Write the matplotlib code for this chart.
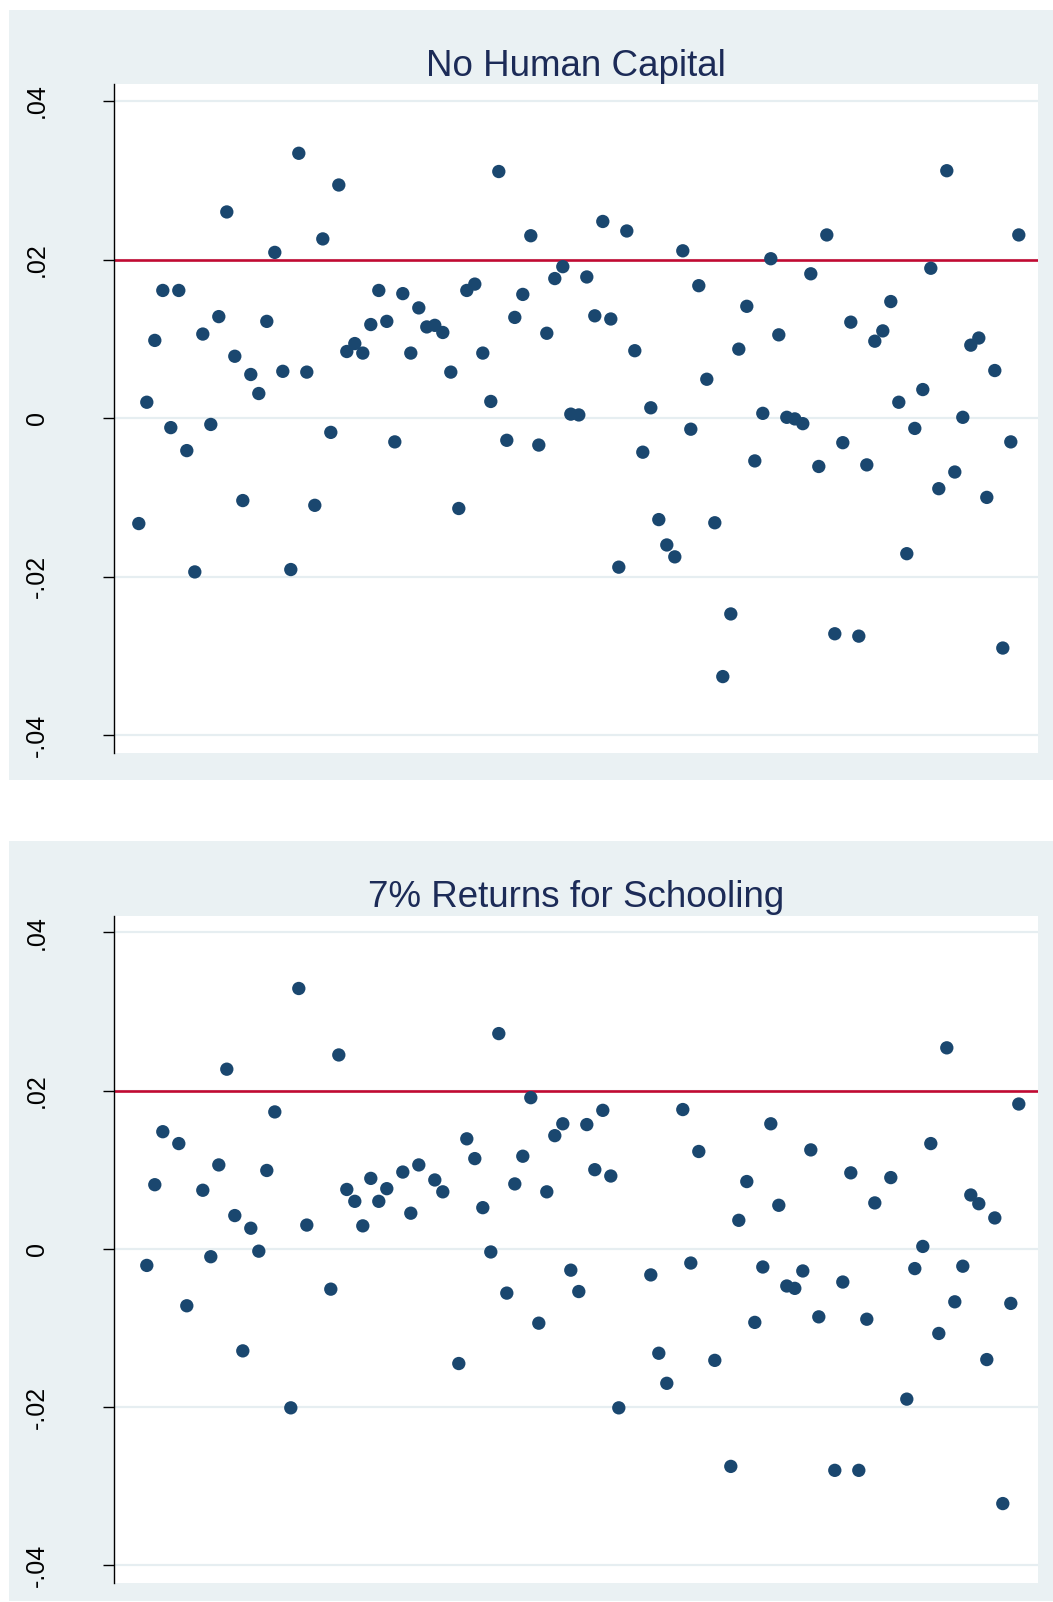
import numpy as np
import matplotlib
matplotlib.use("Agg")
import matplotlib.pyplot as plt
from matplotlib.patches import Rectangle

plt.rcParams['font.family'] = ['Liberation Sans', 'DejaVu Sans']

nan = np.nan
titles = ["No Human Capital", "7% Returns for Schooling"]
reference_line = 0.02
ytick_values = [-0.04, -0.02, 0.0, 0.02, 0.04]
ytick_labels = ["-.04", "-.02", "0", ".02", ".04"]

no_human_capital = [
    -0.0133, 0.0020, 0.0098, 0.0161, -0.0012, 0.0161, -0.0041, -0.0194, 0.0106, -0.0008,
    0.0128, 0.0260, 0.0078, -0.0104, 0.0055, 0.0031, 0.0122, 0.0209, 0.0059, -0.0191,
    0.0334, 0.0058, -0.0110, 0.0226, -0.0018, 0.0294, 0.0084, 0.0094, 0.0082, 0.0118,
    0.0161, 0.0122, -0.0030, 0.0157, 0.0082, 0.0139, 0.0115, 0.0117, 0.0108, 0.0058,
    -0.0114, 0.0161, 0.0169, 0.0082, 0.0021, 0.0311, -0.0028, 0.0127, 0.0156, 0.0230,
    -0.0034, 0.0107, 0.0176, 0.0191, 0.0005, 0.0004, 0.0178, 0.0129, 0.0248, 0.0125,
    -0.0188, 0.0236, 0.0085, -0.0043, 0.0013, -0.0128, -0.0160, -0.0175, 0.0211, -0.0014,
    0.0167, 0.0049, -0.0132, -0.0326, -0.0247, 0.0087, 0.0141, -0.0054, 0.0006, 0.0201,
    0.0105, 0.0001, -0.0001, -0.0007, 0.0182, -0.0061, 0.0231, -0.0272, -0.0031, 0.0121,
    -0.0275, -0.0059, 0.0097, 0.0110, 0.0147, 0.0020, -0.0171, -0.0013, 0.0036, 0.0189,
    -0.0089, 0.0312, -0.0068, 0.0001, 0.0092, 0.0101, -0.0100, 0.0060, -0.0290, -0.0030,
    0.0231,
]

returns_7pct = [
    nan, -0.0021, 0.0081, 0.0148, nan, 0.0133, -0.0072, nan, 0.0074, -0.0010,
    0.0106, 0.0227, 0.0042, -0.0129, 0.0026, -0.0003, 0.0099, 0.0173, nan, -0.0201,
    0.0329, 0.0030, nan, nan, -0.0051, 0.0245, 0.0075, 0.0060, 0.0029, 0.0089,
    0.0060, 0.0076, nan, 0.0097, 0.0045, 0.0106, nan, 0.0087, 0.0072, nan,
    -0.0145, 0.0139, 0.0114, 0.0052, -0.0004, 0.0272, -0.0056, 0.0082, 0.0117, 0.0191,
    -0.0094, 0.0072, 0.0143, 0.0158, -0.0027, -0.0054, 0.0157, 0.0100, 0.0175, 0.0092,
    -0.0201, nan, nan, nan, -0.0033, -0.0132, -0.0170, nan, 0.0176, -0.0018,
    0.0123, nan, -0.0141, nan, -0.0275, 0.0036, 0.0085, -0.0093, -0.0023, 0.0158,
    0.0055, -0.0047, -0.0050, -0.0028, 0.0125, -0.0086, nan, -0.0280, -0.0042, 0.0096,
    -0.0280, -0.0089, 0.0058, nan, 0.0090, nan, -0.0190, -0.0025, 0.0003, 0.0133,
    -0.0107, 0.0254, -0.0067, -0.0022, 0.0068, 0.0057, -0.0140, 0.0039, -0.0322, -0.0069,
    0.0183,
]

series = [no_human_capital, returns_7pct]

W, H = 1053, 1602
fig = plt.figure(figsize=(W / 100, H / 100), dpi=100)
fig.patch.set_facecolor('white')

BG = '#EAF1F3'
GRID = '#E6EEF1'
NAVY = '#1A476F'
RED = '#C10A32'
TITLE_C = '#1C2B57'

# panel layout in pixels: (bg_top, bg_bottom, ax_top, ax_bottom)
panels = [(10, 780, 84.3, 752.7), (840.7, 1601, 915.7, 1582.7)]
title_pads = [5.0, 6.5]
ax_left, ax_right = 114, 1038

for k, (bg_t, bg_b, ax_t, ax_b) in enumerate(panels):
    fig.patches.append(Rectangle((9 / W, 1 - bg_b / H), (W - 9) / W, (bg_b - bg_t) / H,
                                 transform=fig.transFigure, facecolor=BG,
                                 edgecolor='none', zorder=-5))
    ax = fig.add_axes([ax_left / W, 1 - ax_b / H, (ax_right - ax_left) / W, (ax_b - ax_t) / H])
    ax.set_zorder(1)
    ax.set_facecolor('white')
    y = np.array(series[k], dtype=float)
    x = np.arange(len(y))
    ax.scatter(x, y, s=92, color=NAVY, edgecolors='none', zorder=3)
    ax.axhline(reference_line, color=RED, lw=1.9, zorder=2)
    ax.set_xlim(-3.1, 112.4)
    ax.set_ylim(-0.0422, 0.0421)
    ax.set_yticks(ytick_values)
    ax.set_yticklabels(ytick_labels, rotation=90, va='center', fontsize=18)
    ax.set_xticks([])
    ax.grid(axis='y', color=GRID, lw=1.6, zorder=1)
    ax.set_axisbelow(True)
    for side in ['top', 'right', 'bottom']:
        ax.spines[side].set_visible(False)
    ax.spines['left'].set_color('black')
    ax.spines['left'].set_linewidth(1.0)
    ax.tick_params(axis='y', direction='out', length=8, width=1.0, pad=39, colors='black')
    ax.set_title(titles[k], fontsize=26.5, color=TITLE_C, pad=title_pads[k])

fig.savefig('out.png', dpi=100)
